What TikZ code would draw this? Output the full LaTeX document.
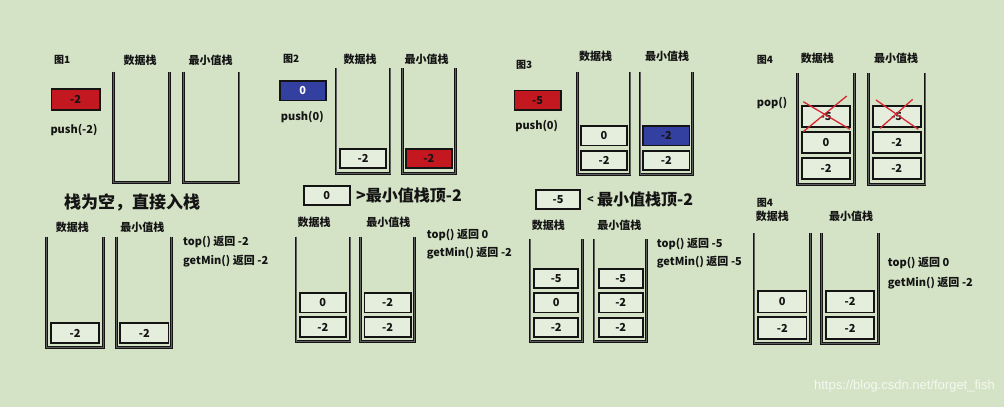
\documentclass[tikz,border=0pt]{standalone}
\usepackage{fontspec}
\setmainfont{Noto Sans CJK SC}
\newfontfamily\urlfont{Liberation Sans}
\usetikzlibrary{positioning}

\definecolor{bg}{RGB}{212,227,197}
\definecolor{cell}{RGB}{229,237,221}
\definecolor{ink}{RGB}{20,20,20}
\definecolor{cellred}{RGB}{196,24,32}
\definecolor{cellblue}{RGB}{52,64,160}
\definecolor{crossred}{RGB}{214,40,50}

\begin{document}
\begin{tikzpicture}[
    x=1pt, y=-1pt,
    every node/.style={inner sep=0pt, text=ink, font=\bfseries\fontsize{11}{13}\selectfont},
    stackwall/.style={draw=ink, line width=1.1pt, double=gray!70!ink, double distance=0.6pt},
    item/.style={rectangle, draw=ink, line width=1.8pt, fill=cell, minimum width=46.2pt, minimum height=19.4pt, font=\bfseries\fontsize{11}{13}\selectfont},
    reditem/.style={item, fill=cellred},
    blueitem/.style={item, fill=cellblue},
    head/.style={font=\bfseries\fontsize{11}{13}\selectfont},
    fig/.style={anchor=west, font=\bfseries\fontsize{10}{12}\selectfont},
    note/.style={anchor=west},
    big/.style={anchor=west, font=\bfseries\fontsize{16}{18}\selectfont},
    cross/.style={draw=crossred, line width=1.3pt}
]

\fill[bg] (0,0) rectangle (1004,407);
\useasboundingbox (0,0) rectangle (1004,407);

% Fig 1: push(-2) onto empty stacks
\node[fig] (fig1) at (54,60) {图1};
\node[reditem, minimum width=48.2pt, minimum height=20.8pt] (in1) at (75.5,99.5) {-2};
\node (op1) at (74,130) {push(-2)};
\draw[stackwall] (113.3,71.7) |- (169.3,182.7) -- (169.3,71.7);
\draw[stackwall] (183.3,71.7) |- (239,182.7) -- (239,71.7);
\node[head] (dh1) at (140,60.7) {数据栈};
\node[head] (mh1) at (210.7,60.7) {最小值栈};

\node[big, font=\bfseries\fontsize{17}{19}\selectfont] (why1) at (64,202) {栈为空，直接入栈};

% Fig 1 result
\node[head] (dh1r) at (72.3,227.3) {数据栈};
\node[head] (mh1r) at (142.3,227.3) {最小值栈};
\draw[stackwall] (46.7,236.7) |- (103.3,347.3) -- (103.3,236.7);
\draw[stackwall] (116.7,236.7) |- (171.7,347.3) -- (171.7,236.7);
\node[item, minimum width=48.2pt, minimum height=20.4pt] (d1a) at (75,333) {-2};
\node[item, minimum width=48.2pt, minimum height=20.4pt] (m1a) at (144.3,333) {-2};
\node[note] (top1) at (183,241.7) {top() 返回 -2};
\node[note] (min1) at (183,260.7) {getMin() 返回 -2};

% Fig 2: push(0)
\node[fig] (fig2) at (283,59) {图2};
\node[blueitem, text=white] (in2) at (302.8,90.8) {0};
\node (op2) at (302.3,117.3) {push(0)};
\draw[stackwall] (336,68.3) |- (390,173.3) -- (390,68.3);
\draw[stackwall] (402.3,68.3) |- (455.7,173.3) -- (455.7,68.3);
\node[head] (dh2) at (360,59) {数据栈};
\node[head] (mh2) at (426.7,59) {最小值栈};
\node[item] (d2a) at (363.2,158.5) {-2};
\node[reditem] (m2a) at (428.8,158.5) {-2};

\node[item] (cmp2) at (326.8,195.3) {0};
\node[big] (why2) at (356,195) {>最小值栈顶-2};

% Fig 2 result
\node[head] (dh2r) at (314,222.7) {数据栈};
\node[head] (mh2r) at (388.3,222.7) {最小值栈};
\draw[stackwall] (296,236.7) |- (350,341.7) -- (350,236.7);
\draw[stackwall] (360.7,236.7) |- (414.3,341.7) -- (414.3,236.7);
\node[item] (d2b) at (322.8,302.8) {0};
\node[item] (d2c) at (322.8,327) {-2};
\node[item] (m2b) at (387.5,302.8) {-2};
\node[item] (m2c) at (387.5,327) {-2};
\node[note] (top2) at (426.7,235) {top() 返回 0};
\node[note] (min2) at (426.7,253.3) {getMin() 返回 -2};

% Fig 3: push(-5)
\node[fig] (fig3) at (516,65) {图3};
\node[reditem] (in3) at (537.5,100.2) {-5};
\node (op3) at (536.7,125.7) {push(0)};
\draw[stackwall] (577.7,71.7) |- (630,174.3) -- (630,71.7);
\draw[stackwall] (640,71.7) |- (692.7,174.3) -- (692.7,71.7);
\node[head] (dh3) at (595.7,56.7) {数据栈};
\node[head] (mh3) at (667,56.7) {最小值栈};
\node[item] (d3a) at (604,135.8) {0};
\node[item] (d3b) at (604,160.3) {-2};
\node[blueitem] (m3a) at (666.3,135.8) {-2};
\node[item] (m3b) at (666.3,160.3) {-2};

\node[item, minimum width=44.2pt] (cmp3) at (558,199.5) {-5};
\node[anchor=west] (lt3) at (587,200) {<};
\node[big] (why3) at (597,199.3) {最小值栈顶-2};

% Fig 3 result
\node[head] (dh3r) at (548.3,225) {数据栈};
\node[head] (mh3r) at (619.3,225) {最小值栈};
\draw[stackwall] (530,239.3) |- (582.3,341.7) -- (582.3,239.3);
\draw[stackwall] (594,239.3) |- (646.7,341.7) -- (646.7,239.3);
\node[item, minimum width=43.8pt] (d3c) at (556.2,278.3) {-5};
\node[item, minimum width=43.8pt] (d3d) at (556.2,302.7) {0};
\node[item, minimum width=43.8pt] (d3e) at (556.2,327.5) {-2};
\node[item, minimum width=43.8pt] (m3c) at (620.7,278.3) {-5};
\node[item, minimum width=43.8pt] (m3d) at (620.7,302.7) {-2};
\node[item, minimum width=43.8pt] (m3e) at (620.7,327.5) {-2};
\node[note] (top3) at (656.7,244.3) {top() 返回 -5};
\node[note] (min3) at (656.7,262.3) {getMin() 返回 -5};

% Fig 4: pop()
\node[fig] (fig4) at (756.7,60) {图4};
\node[anchor=west] (op4) at (756.7,103.3) {pop()};
\draw[stackwall] (797.7,73.3) |- (854.3,184.3) -- (854.3,73.3);
\draw[stackwall] (868.3,73.3) |- (925,184.3) -- (925,73.3);
\node[head] (dh4) at (817.3,58.3) {数据栈};
\node[head] (mh4) at (896,58.3) {最小值栈};
\node[item, minimum width=48.2pt, minimum height=21pt] (d4a) at (826,116.2) {-5};
\node[item, minimum width=48.2pt, minimum height=21pt] (d4b) at (826,142.3) {0};
\node[item, minimum width=48.2pt, minimum height=21pt] (d4c) at (826,168.7) {-2};
\node[item, minimum width=48.2pt, minimum height=21pt] (m4a) at (896.7,116.2) {-5};
\node[item, minimum width=48.2pt, minimum height=21pt] (m4b) at (896.7,142.3) {-2};
\node[item, minimum width=48.2pt, minimum height=21pt] (m4c) at (896.7,168.7) {-2};
\draw[cross] (803.3,131.7) -- (846.7,96);
\draw[cross] (803.3,101.7) -- (850,129.3);
\draw[cross] (880,128.3) -- (912.7,99.3);
\draw[cross] (876,100) -- (918.3,129.3);

% Fig 4 result
\node[fig] (fig4r) at (756.7,202.7) {图4};
\node[head] (dh4r) at (772.3,216.7) {数据栈};
\node[head] (mh4r) at (851,216.7) {最小值栈};
\draw[stackwall] (754,233.3) |- (810.7,343.3) -- (810.7,233.3);
\draw[stackwall] (821.7,233.3) |- (878.3,343.3) -- (878.3,233.3);
\node[item, minimum width=48.2pt, minimum height=21.4pt] (d4d) at (782.3,301.7) {0};
\node[item, minimum width=48.2pt, minimum height=21.4pt] (d4e) at (782.3,328) {-2};
\node[item, minimum width=48.2pt, minimum height=21.4pt] (m4d) at (850,301.7) {-2};
\node[item, minimum width=48.2pt, minimum height=21.4pt] (m4e) at (850,328) {-2};
\node[note] (top4) at (887.7,262.7) {top() 返回 0};
\node[note] (min4) at (887.7,282.7) {getMin() 返回 -2};

% watermark
\node[anchor=east, text=white!75!bg, font=\urlfont\fontsize{13}{15}\selectfont] (wm) at (995,386) {https://blog.csdn.net/forget\_fish};

\end{tikzpicture}
\end{document}
